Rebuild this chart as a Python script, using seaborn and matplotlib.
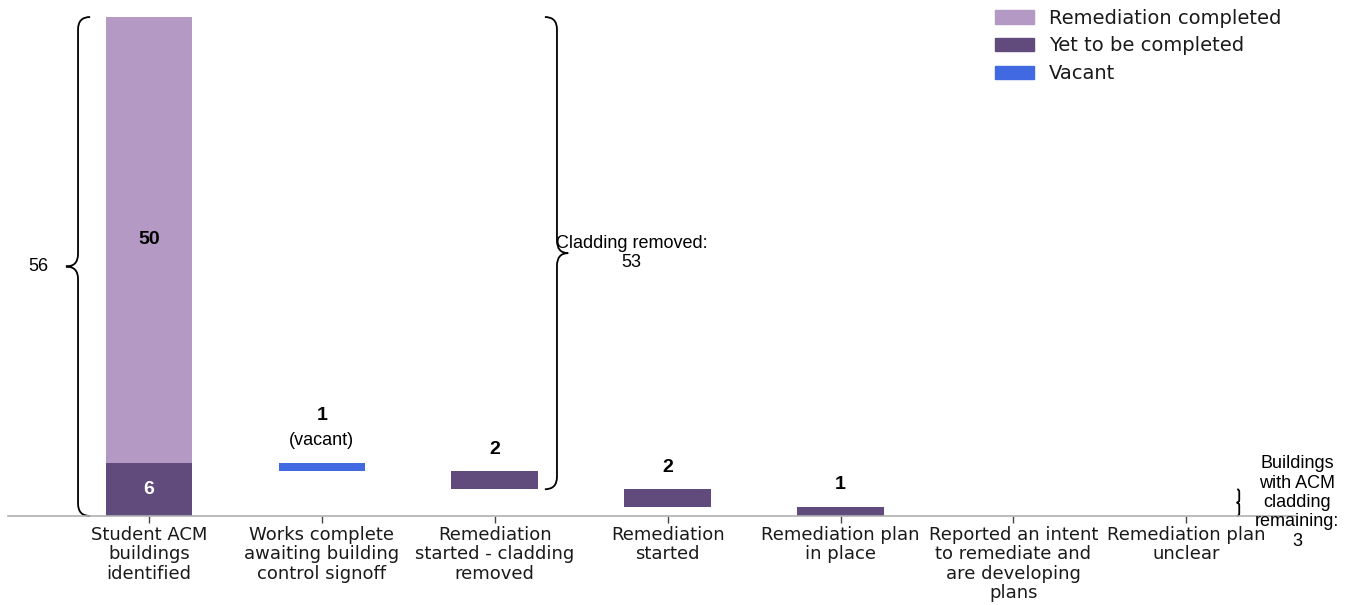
import numpy as np
import pandas as pd
import seaborn as sns
import matplotlib
matplotlib.use("Agg")
import matplotlib.pyplot as plt
from matplotlib.path import Path
from matplotlib.patches import PathPatch, Patch

# data
categories = ["Student ACM\nbuildings\nidentified",
              "Works complete\nawaiting building\ncontrol signoff",
              "Remediation\nstarted - cladding\nremoved",
              "Remediation\nstarted",
              "Remediation plan\nin place",
              "Reported an intent\nto remediate and\nare developing\nplans",
              "Remediation plan\nunclear"]
completed = [50, 0, 0, 0, 0, 0, 0]
yet_to_complete = [6, 0, 2, 2, 1, 0, 0]
vacant = [0, 1, 0, 0, 0, 0, 0]
total_identified = 56
cladding_removed = 53
remaining = 3

df = pd.DataFrame({"cat": categories, "completed": completed,
                   "yet": yet_to_complete, "vacant": vacant})

# waterfall bottoms: each later step eats into the first bar's "yet" block
steps = df["yet"] + df["vacant"]
steps.iloc[0] = 0
left_over = df["yet"].iloc[0] - steps.cumsum()
bottoms = left_over.copy()
bottoms.iloc[0] = 0

sns.set_style("white")
plt.rcParams['font.family'] = ['DejaVu Sans']
plt.rcParams['text.color'] = 'black'

c_light = "#b399c4"
c_dark = "#614a7c"
c_vac = "#4169e1"

fig = plt.figure(figsize=(13.54, 6.05), dpi=100)
ax = fig.add_axes([8/1354, 89/605, (1297-8)/1354, (516-17)/605])

x = np.arange(len(df))
w = 0.5
ax.bar(x, df["yet"], bottom=bottoms, width=w, color=c_dark, linewidth=0)
ax.bar(x, df["vacant"], bottom=bottoms, width=w, color=c_vac, linewidth=0)
ax.bar(x[0], df["completed"].iloc[0], bottom=df["yet"].iloc[0], width=w,
       color=c_light, linewidth=0)

arial = ['Liberation Sans', 'DejaVu Sans']
fs = 13
fsb = 14

# value labels
ax.text(0, df["yet"].iloc[0] + df["completed"].iloc[0] / 2, str(completed[0]),
        ha="center", va="center", fontsize=fsb, fontweight="bold", family=arial, color="black")
ax.text(0, df["yet"].iloc[0] / 2, str(yet_to_complete[0]), ha="center",
        va="center", fontsize=fsb, fontweight="bold", color="white", family=arial)
for i in range(1, len(df)):
    v = steps.iloc[i]
    if v == 0:
        continue
    top = bottoms.iloc[i] + v
    if df["vacant"].iloc[i] > 0:
        ax.annotate("(vacant)", (i, top), xytext=(0, 16), textcoords="offset points",
                    ha="center", va="center", fontsize=fs, family=arial, color="black")
        ax.annotate(str(v), (i, top), xytext=(0, 34), textcoords="offset points",
                    ha="center", va="center", fontsize=fsb, fontweight="bold",
                    family=arial, color="black")
    else:
        ax.annotate(str(v), (i, top), xytext=(0, 16), textcoords="offset points",
                    ha="center", va="center", fontsize=fsb, fontweight="bold",
                    family=arial, color="black")


def brace(x0, y0, y1, d, r, tip):
    # d: curl of ends (x units, signed), tip: tip direction (x units, signed), r: y radius
    ym = (y0 + y1) / 2
    verts = [(x0 + d, y0), (x0, y0), (x0, y0 + r),
             (x0, ym - r), (x0, ym), (x0 + tip, ym),
             (x0, ym), (x0, ym + r),
             (x0, y1 - r), (x0, y1), (x0 + d, y1)]
    codes = [Path.MOVETO, Path.CURVE3, Path.CURVE3,
             Path.LINETO, Path.CURVE3, Path.CURVE3,
             Path.CURVE3, Path.CURVE3,
             Path.LINETO, Path.CURVE3, Path.CURVE3]
    ax.add_patch(PathPatch(Path(verts, codes), fill=False, lw=1.3,
                           edgecolor="black", clip_on=False))


brace(-0.41, 0, total_identified, 0.07, 1.4, -0.07)
ax.text(-0.64, total_identified / 2, str(total_identified), ha="center",
        va="center", fontsize=fs, family=arial, color="black")

brace(2.36, remaining, total_identified, -0.07, 1.4, 0.065)
ax.text(2.79, (remaining + total_identified) / 2,
        "Cladding removed:\n" + str(cladding_removed), ha="center", va="center",
        fontsize=fs, family=arial, linespacing=1.12, color="black")

brace(6.306, 0, remaining, -0.012, 0.3, -0.015)
ax.text(6.64, remaining / 2, "Buildings\nwith ACM\ncladding\nremaining:\n" + str(remaining),
        ha="center", va="center", fontsize=fs, family=arial, linespacing=1.18, color="black")

ax.set_xlim(-0.815, 6.64)
ax.set_ylim(0, total_identified)
ax.set_xticks(x)
ax.set_xticklabels(categories, fontsize=13, color="#1a1a1a", linespacing=1.1)
ax.set_yticks([])
for s in ["left", "top", "right"]:
    ax.spines[s].set_visible(False)
ax.spines["bottom"].set_color("#b0b0b0")
ax.spines["bottom"].set_linewidth(1.2)
ax.tick_params(axis="x", length=5, width=1, color="#444444", pad=2, bottom=True)

handles = [Patch(color=c_light, label="Remediation completed"),
           Patch(color=c_dark, label="Yet to be completed"),
           Patch(color=c_vac, label="Vacant")]
leg = fig.legend(handles=handles, loc="upper left", bbox_to_anchor=(985/1354, 1 + 1/605),
                 frameon=False, fontsize=14, borderpad=0, handlelength=2.0,
                 handleheight=0.7, labelspacing=0.45, handletextpad=0.8)
for t in leg.get_texts():
    t.set_color("#1a1a1a")

fig.savefig("out.png", dpi=100)
